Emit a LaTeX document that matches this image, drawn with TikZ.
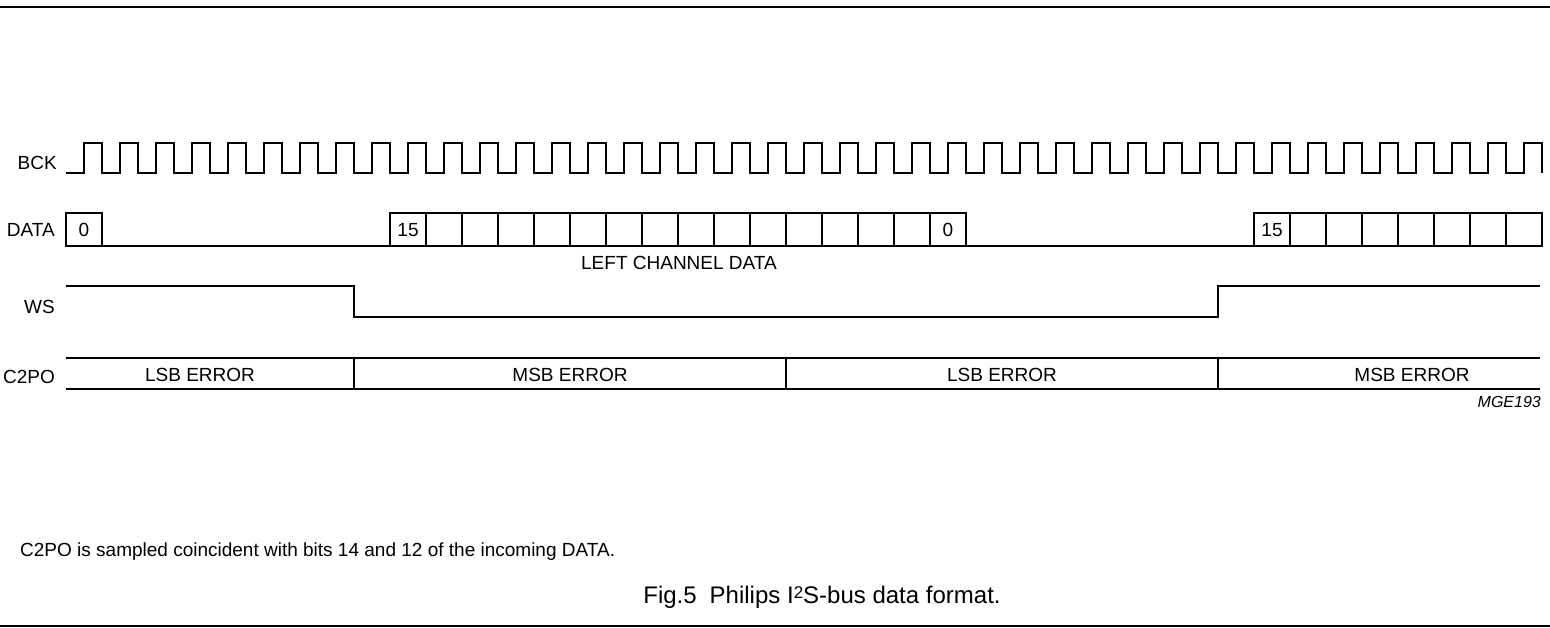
\documentclass[tikz,border=0pt]{standalone}
\usepackage{fontspec}
\setmainfont{Liberation Sans}
\tikzset{
  sig/.style={line width=2pt, line join=miter},
  lbl/.style={font=\fontsize{19}{22}\selectfont, inner sep=0pt},
  rule/.style={line width=2.5pt},
}
\begin{document}
\begin{tikzpicture}[x=1pt,y=-1pt]
\useasboundingbox (0,0) rectangle (1550,628);
\draw[rule] (0,7) -- (1550,7);
\draw[rule] (0,626) -- (1550,626);

% bit clock
\node[lbl,anchor=east] (bck) at (57,163) {BCK};
\draw[sig] (66,173) \foreach \k in {0,...,40} { -- ({84+36*\k},173) -- ({84+36*\k},143) -- ({102+36*\k},143) -- ({102+36*\k},173) };

% serial data
\node[lbl,anchor=east] (data) at (55,230) {DATA};
\draw[sig] (66,246) -- (1542,246);
\foreach \j in {0,9,10,...,24,33,34,...,40}
  \draw[sig] ({66+36*\j},213) rectangle +(36,33);
\node[lbl] (d0) at (84,230) {0};
\node[lbl] (d15) at (408,230) {15};
\node[lbl] (d0b) at (948,230) {0};
\node[lbl] (d15b) at (1272,230) {15};
\node[lbl] (left) at (679,263) {LEFT CHANNEL DATA};

% word select
\node[lbl,anchor=east] (ws) at (55,307) {WS};
\draw[sig] (66,286) -- (354,286) -- (354,317) -- (1218,317) -- (1218,286) -- (1540,286);

% C2PO
\node[lbl,anchor=east] (c2po) at (55,377) {C2PO};
\draw[sig] (66,358) -- (1540,358);
\draw[sig] (66,389) -- (1540,389);
\foreach \x in {354,786,1218}
  \draw[sig] (\x,358) -- (\x,389);
\node[lbl] (lsb1) at (200,375) {LSB ERROR};
\node[lbl] (msb1) at (570,375) {MSB ERROR};
\node[lbl] (lsb2) at (1002,375) {LSB ERROR};
\node[lbl] (msb2) at (1412,375) {MSB ERROR};

\node[lbl,anchor=east,font=\fontsize{16}{19}\selectfont\itshape] (code) at (1541,402) {MGE193};

\node[lbl,anchor=west] (note) at (20,552) {C2PO is sampled coincident with bits 14 and 12 of the incoming DATA.};
\node[lbl,font=\fontsize{24}{28}\selectfont] (cap) at (822,597) {Fig.5\hspace{13pt}Philips I\raisebox{5pt}{\fontsize{17}{17}\selectfont 2}S-bus data format.};
\end{tikzpicture}
\end{document}
